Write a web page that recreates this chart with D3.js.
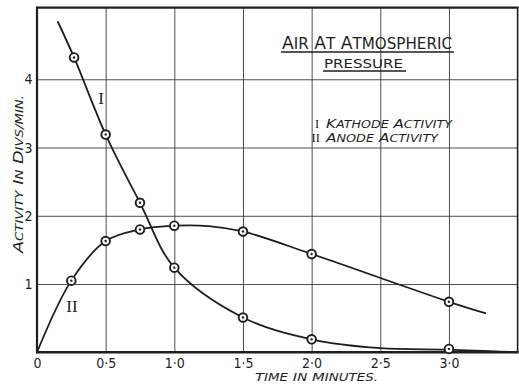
<!DOCTYPE html>
<html>
<head>
<meta charset="utf-8">
<script src="https://cdn.jsdelivr.net/npm/d3@7"></script>
<style>
  html, body { margin: 0; padding: 0; background: #ffffff; }
  svg { display: block; }
</style>
</head>
<body>
<svg id="chart" width="519" height="384"></svg>
<script>
// ---- data ----
const xTicks = [0, 0.5, 1.0, 1.5, 2.0, 2.5, 3.0];
const yTicks = [1, 2, 3, 4];
const xTickLabels = ["0", "0·5", "1·0", "1·5", "2·0", "2·5", "3·0"];
const yTickLabels = ["1", "2", "3", "4"];

// Curve I : Kathode activity (measured points)
const kathodeX = [0.27, 0.5, 0.75, 1.0, 1.5, 2.0, 3.0];
const kathodeY = [4.32, 3.19, 2.19, 1.24, 0.51, 0.19, 0.05];
// drawn curve of I (includes its free ends)
const kathodeCurveX = [0.15, 0.27, 0.5, 0.75, 1.0, 1.5, 2.0, 2.5, 3.0, 3.5];
const kathodeCurveY = [4.85, 4.32, 3.19, 2.19, 1.24, 0.51, 0.19, 0.06, 0.04, 0.0];

// Curve II : Anode activity (measured points)
const anodeX = [0.25, 0.5, 0.75, 1.0, 1.5, 2.0, 3.0];
const anodeY = [1.05, 1.63, 1.80, 1.855, 1.77, 1.44, 0.74];
// drawn curve of II
const anodeCurveX = [0, 0.25, 0.5, 0.75, 1.0, 1.25, 1.5, 2.0, 3.0, 3.27];
const anodeCurveY = [0, 1.05, 1.63, 1.80, 1.855, 1.85, 1.77, 1.44, 0.74, 0.57];

const titleLines = ["AIR AT ATMOSPHERIC", "PRESSURE"];
const legendNumerals = ["I", "II"];
const legendTexts = ["KATHODE ACTIVITY", "ANODE ACTIVITY"];
const xTitle = "TIME IN MINUTES.";
const yTitle = "ACTIVITY IN DIVS/MIN.";

// ---- layout ----
const svg = d3.select("#chart");
const padL = 37, padR = 517.6, padT = 7.6, padB = 352.3;
const x = d3.scaleLinear().domain([0, 3.5]).range([padL, padR]);
const y = d3.scaleLinear().domain([0, 5.05]).range([padB, padT]);
const ink = "#1e1e1e";
const numFont = "'Liberation Sans Narrow', 'DejaVu Sans Condensed', 'Open Sans', sans-serif";
const capFont = "'DejaVu Sans', 'Open Sans', sans-serif";
const serifFont = "'Liberation Serif', 'DejaVu Serif', serif";

svg.append("rect").attr("width", 519).attr("height", 384).attr("fill", "#ffffff");

// gridlines
const gx = svg.append("g").attr("transform", `translate(0,${padB})`)
  .call(d3.axisBottom(x).tickValues(xTicks.filter(d => d > 0)).tickSize(-(padB - padT)).tickFormat(""));
gx.select(".domain").remove();
gx.selectAll("line").attr("stroke", "#3a3a3a").attr("stroke-width", 0.9);

const gy = svg.append("g").attr("transform", `translate(${padL},0)`)
  .call(d3.axisLeft(y).tickValues(yTicks).tickSize(-(padR - padL)).tickFormat(""));
gy.select(".domain").remove();
gy.selectAll("line").attr("stroke", "#3a3a3a").attr("stroke-width", 0.9);

// frame
svg.append("line").attr("x1", padL).attr("x2", padR + 1).attr("y1", padT).attr("y2", padT)
  .attr("stroke", ink).attr("stroke-width", 2.4);
svg.append("line").attr("x1", padR).attr("x2", padR).attr("y1", padT).attr("y2", padB)
  .attr("stroke", ink).attr("stroke-width", 1.6);
svg.append("line").attr("x1", padL).attr("x2", padL).attr("y1", padT - 1).attr("y2", padB + 1)
  .attr("stroke", ink).attr("stroke-width", 2.2);
svg.append("line").attr("x1", padL - 1).attr("x2", padR + 1).attr("y1", padB).attr("y2", padB)
  .attr("stroke", ink).attr("stroke-width", 2.6);

// tick labels
const ax = svg.append("g").attr("transform", `translate(0,${padB})`)
  .call(d3.axisBottom(x).tickValues(xTicks).tickSize(0).tickPadding(5.5)
    .tickFormat((d, i) => xTickLabels[i]));
ax.select(".domain").remove();
ax.selectAll("text").attr("font-family", numFont).attr("font-size", 14).attr("fill", ink);

const ay = svg.append("g").attr("transform", `translate(${padL},0)`)
  .call(d3.axisLeft(y).tickValues(yTicks).tickSize(0).tickPadding(4.5)
    .tickFormat((d, i) => yTickLabels[i]));
ay.select(".domain").remove();
ay.selectAll("text").attr("font-family", numFont).attr("font-size", 14).attr("fill", ink);

// curves
const line = d3.line().x(d => x(d[0])).y(d => y(d[1])).curve(d3.curveCatmullRom.alpha(0.5));
svg.append("path").datum(kathodeCurveX.map((v, i) => [v, kathodeCurveY[i]]))
  .attr("d", line).attr("fill", "none").attr("stroke", ink).attr("stroke-width", 1.8);
svg.append("path").datum(anodeCurveX.map((v, i) => [v, anodeCurveY[i]]))
  .attr("d", line).attr("fill", "none").attr("stroke", ink).attr("stroke-width", 1.8);

// markers
function markers(xs, ys) {
  const g = svg.append("g");
  const pts = xs.map((v, i) => [v, ys[i]]);
  g.selectAll("circle.m").data(pts).join("circle").attr("class", "m")
    .attr("cx", d => x(d[0])).attr("cy", d => y(d[1])).attr("r", 4.3)
    .attr("fill", "#ffffff").attr("stroke", ink).attr("stroke-width", 1.9);
  g.selectAll("circle.c").data(pts).join("circle").attr("class", "c")
    .attr("cx", d => x(d[0])).attr("cy", d => y(d[1])).attr("r", 1.2).attr("fill", ink);
}
markers(kathodeX, kathodeY);
markers(anodeX, anodeY);

// curve labels
svg.append("text").attr("x", 101).attr("y", 104).attr("text-anchor", "middle")
  .attr("font-family", serifFont).attr("font-size", 17)
  .attr("fill", ink).text("I");
svg.append("text").attr("x", 72).attr("y", 312).attr("text-anchor", "middle")
  .attr("font-family", serifFont).attr("font-size", 17)
  .attr("fill", ink).text("II");

// title with underline
function capsText(parent, str, big, small) {
  const words = str.split(" ");
  words.forEach((w, wi) => {
    parent.append("tspan").attr("font-size", big).text((wi > 0 ? " " : "") + w[0]);
    if (w.length > 1) parent.append("tspan").attr("font-size", small).text(w.slice(1));
  });
}
const t1 = svg.append("text").attr("x", 282).attr("y", 49).attr("font-family", capFont)
  .attr("fill", ink).attr("textLength", 170).attr("lengthAdjust", "spacingAndGlyphs");
capsText(t1, titleLines[0], 17, 15);
svg.append("line").attr("x1", 281).attr("x2", 454).attr("y1", 52).attr("y2", 52)
  .attr("stroke", ink).attr("stroke-width", 1.3);
const t2 = svg.append("text").attr("x", 324).attr("y", 68).attr("font-family", capFont)
  .attr("fill", ink).attr("textLength", 79).attr("lengthAdjust", "spacingAndGlyphs");
capsText(t2, titleLines[1], 12, 12);
svg.append("line").attr("x1", 323).attr("x2", 406).attr("y1", 71).attr("y2", 71)
  .attr("stroke", ink).attr("stroke-width", 1.3);

// legend
const legY = [127.5, 142];
const legLen = [126, 112];
legendNumerals.forEach((n, i) => {
  svg.append("text").attr("x", i === 0 ? 315 : 311.5).attr("y", legY[i])
    .attr("font-family", serifFont).attr("font-size", 12.5)
    .attr("fill", ink).text(n);
  const t = svg.append("text").attr("x", 326).attr("y", legY[i])
    .attr("font-family", capFont).attr("font-style", "italic").attr("fill", ink)
    .attr("textLength", legLen[i]).attr("lengthAdjust", "spacingAndGlyphs");
  capsText(t, legendTexts[i], 12, 10);
});

// axis titles
const xt = svg.append("text").attr("x", 255).attr("y", 381).attr("font-family", capFont)
  .attr("font-style", "italic").attr("fill", ink)
  .attr("textLength", 123).attr("lengthAdjust", "spacingAndGlyphs");
capsText(xt, xTitle, 11, 10);

const yt = svg.append("text").attr("transform", "translate(23,253) rotate(-90)")
  .attr("font-family", capFont).attr("font-style", "italic").attr("fill", ink)
  .attr("textLength", 158).attr("lengthAdjust", "spacingAndGlyphs");
capsText(yt, yTitle, 14, 10.5);
</script>
</body>
</html>
